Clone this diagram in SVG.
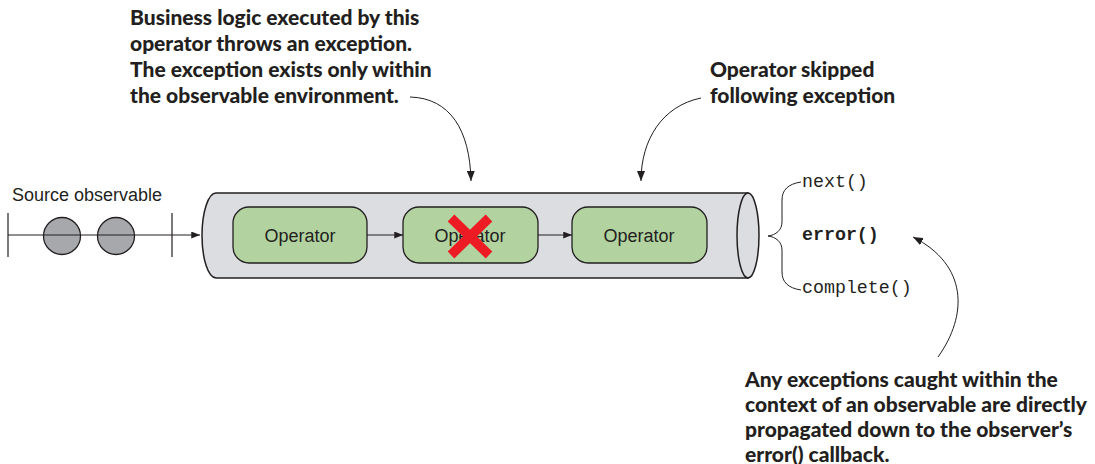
<svg xmlns="http://www.w3.org/2000/svg" width="1095" height="464" viewBox="0 0 1095 464">
<style>
.note{font-family:Lato,"Open Sans",sans-serif;font-weight:900;font-size:21px;fill:#231f20}
.lbl{font-family:"Liberation Sans",Arial,sans-serif;font-size:18px;fill:#231f20}
.mono{font-family:"Liberation Mono","Courier New",monospace;font-size:18.3px;fill:#231f20}
.op{fill:#b2d3a0;stroke:#231f20;stroke-width:1.3}
.ln{fill:none;stroke:#231f20;stroke-width:1.2}
.thin{fill:none;stroke:#231f20;stroke-width:1}
</style>
<defs>
<marker id="ah" viewBox="0 0 10 8" refX="10" refY="4" markerWidth="10" markerHeight="8" markerUnits="userSpaceOnUse" orient="auto">
<path d="M0,0 L10,4 L0,8 Z" fill="#231f20"/>
</marker>
<marker id="ahs" viewBox="0 0 10 8" refX="10" refY="4" markerWidth="9" markerHeight="7" markerUnits="userSpaceOnUse" orient="auto">
<path d="M0,0 L10,4 L0,8 Z" fill="#231f20"/>
</marker>
</defs>
<rect width="1095" height="464" fill="#fff"/>

<g id="source">
<text class="lbl" x="12" y="201">Source observable</text>
<line class="ln" x1="8" y1="213" x2="8" y2="257"/>
<line class="ln" x1="172" y1="213" x2="172" y2="257"/>
<circle cx="62" cy="236" r="18.5" fill="#a7a8ab" stroke="#231f20" stroke-width="1.3"/>
<circle cx="116" cy="236" r="18.5" fill="#a7a8ab" stroke="#231f20" stroke-width="1.3"/>
</g>

<g id="pipeline">
<path d="M216,193 H748 V278 H216 A14,42.5 0 0 1 216,193 Z" fill="#dcdde0" stroke="#231f20" stroke-width="1.5"/>
<ellipse cx="748" cy="235.5" rx="11" ry="42.5" fill="#dcdde0" stroke="#231f20" stroke-width="1.5"/>
</g>

<g id="op1">
<rect class="op" x="233" y="207" width="134" height="56" rx="16"/>
<text class="lbl" x="300" y="241.5" text-anchor="middle">Operator</text>
</g>
<g id="op2">
<rect class="op" x="403" y="207" width="135" height="56" rx="16"/>
<text class="lbl" x="470" y="241.5" text-anchor="middle">Operator</text>
<g stroke="#ed1c24" stroke-width="9.5">
<line x1="451" y1="218" x2="489" y2="255"/>
<line x1="489" y1="218" x2="451" y2="255"/>
</g>
</g>
<g id="op3">
<rect class="op" x="572" y="207" width="135" height="56" rx="16"/>
<text class="lbl" x="639" y="241.5" text-anchor="middle">Operator</text>
</g>

<g id="callbacks">
<path class="thin" d="M801,182 C788,184 782,190 782,200 V222 C782,230 776,235 768,236 C776,237 782,242 782,250 V272 C782,282 788,288 801,290"/>
<text class="mono" x="802" y="187">next()</text>
<text class="mono" x="802" y="240" font-weight="bold">error()</text>
<text class="mono" x="802" y="293">complete()</text>
</g>

<g id="note1">
<text class="note" x="130" y="25">Business logic executed by this</text>
<text class="note" x="130" y="51">operator throws an exception.</text>
<text class="note" x="130" y="77">The exception exists only within</text>
<text class="note" x="130" y="103">the observable environment.</text>
</g>
<g id="note2">
<text class="note" x="710" y="77">Operator skipped</text>
<text class="note" x="710" y="103">following exception</text>
</g>
<g id="note3">
<text class="note" x="745" y="387">Any exceptions caught within the</text>
<text class="note" x="745" y="412">context of an observable are directly</text>
<text class="note" x="745" y="437">propagated down to the observer’s</text>
<text class="note" x="745" y="462">error() callback.</text>
</g>

<g id="connectors">
<line class="ln" x1="8" y1="235" x2="200" y2="235" marker-end="url(#ahs)"/>
<line class="ln" x1="367" y1="235" x2="403" y2="235" marker-end="url(#ahs)"/>
<line class="ln" x1="538" y1="235" x2="572" y2="235" marker-end="url(#ahs)"/>
<path class="thin" d="M410,97 C450,98 470,130 471,181" marker-end="url(#ah)"/>
<path class="thin" d="M701,98 C662,106 641,140 641,181" marker-end="url(#ah)"/>
<path class="thin" d="M938,357 C968,315 968,265 913,237" marker-end="url(#ah)"/>
</g>
</svg>
